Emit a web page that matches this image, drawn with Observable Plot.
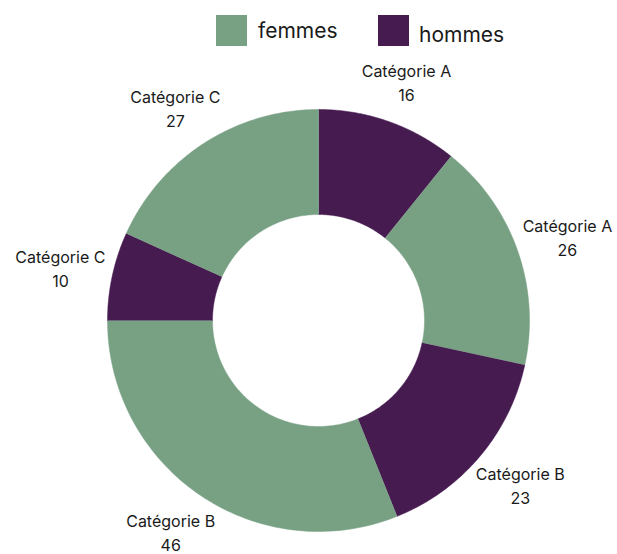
<!DOCTYPE html>
<html>
<head>
<meta charset="utf-8">
<script src="https://cdn.jsdelivr.net/npm/d3@7"></script>
<script src="https://cdn.jsdelivr.net/npm/@observablehq/plot@0.6"></script>
<style>
  body { margin: 0; background: #fff; font-family: Inter, "Open Sans", sans-serif; }
  #legend { position: relative; width: 617px; height: 56px; }
  .sw { position: absolute; top: 15px; width: 31px; height: 31px; }
  .lab { position: absolute; font-size: 21px; color: #1a1a1a; line-height: 1; }
  svg { overflow: visible; }
</style>
</head>
<body>
<div id="legend">
  <div class="sw" style="left:216px;background:#78A184"></div>
  <div class="lab" style="left:258px;top:20px">femmes</div>
  <div class="sw" style="left:378px;background:#461B50"></div>
  <div class="lab" style="left:419px;top:24px">hommes</div>
</div>
<div id="chart"></div>
<script>
const categories = ["Catégorie A", "Catégorie A", "Catégorie B", "Catégorie B", "Catégorie C", "Catégorie C"];
const sexes = ["hommes", "femmes", "hommes", "femmes", "hommes", "femmes"];
const values = [16, 26, 23, 46, 10, 27];
const sexDomain = ["femmes", "hommes"];
const sexColors = ["#78A184", "#461B50"];

const rows = categories.map((c, i) => ({id: i, category: c, sexe: sexes[i], value: values[i]}));
const arcs = d3.pie().sort(null).value(d => d.value)(rows);

const outerR = 211, innerR = 106, labelRx = 264, labelRy = 254;
const pts = [];
for (const a of arcs) {
  const n = 80;
  for (let k = 0; k <= n; k++) {
    const t = a.startAngle + (a.endAngle - a.startAngle) * k / n;
    pts.push({id: a.data.id, sexe: a.data.sexe, x: outerR * Math.sin(t), y: outerR * Math.cos(t)});
  }
  for (let k = n; k >= 0; k--) {
    const t = a.startAngle + (a.endAngle - a.startAngle) * k / n;
    pts.push({id: a.data.id, sexe: a.data.sexe, x: innerR * Math.sin(t), y: innerR * Math.cos(t)});
  }
}
const labels = arcs.map(a => {
  const m = (a.startAngle + a.endAngle) / 2;
  return {x: labelRx * Math.sin(m), y: labelRy * Math.cos(m), text: `${a.data.category}\n${a.data.value}`};
});

const W = 617, H = 498, CY = 264;
const chart = Plot.plot({
  width: W, height: H,
  margin: 0,
  x: {domain: [-318, W - 318], axis: null},
  y: {domain: [-(H - CY), CY], axis: null},
  color: {domain: sexDomain, range: sexColors},
  style: {fontFamily: "Inter, 'Open Sans', sans-serif", background: "white", overflow: "visible"},
  marks: [
    Plot.line(pts, {x: "x", y: "y", z: "id", fill: "sexe", stroke: "sexe", strokeWidth: 0.5, curve: "linear"}),
    Plot.text(labels, {x: "x", y: "y", text: "text", fontSize: 16, lineHeight: 1.5, fill: "#1a1a1a", textAnchor: "middle"})
  ]
});
document.getElementById("chart").appendChild(chart);
</script>
</body>
</html>
